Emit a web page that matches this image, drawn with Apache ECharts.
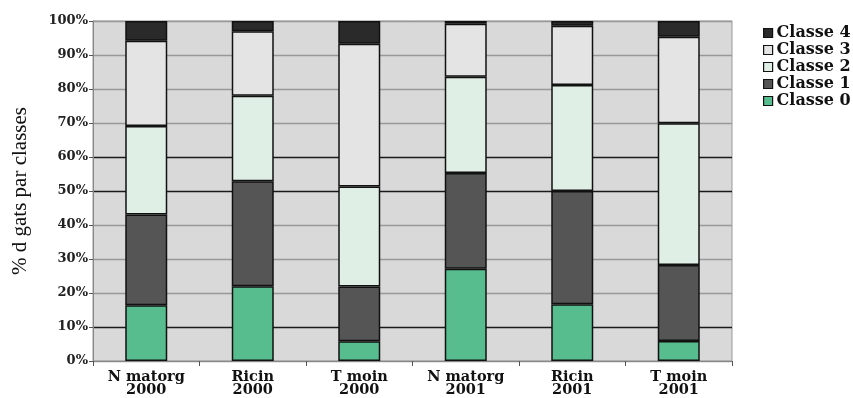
<!DOCTYPE html>
<html>
<head>
<meta charset="utf-8">
<script src="https://cdn.jsdelivr.net/npm/echarts@6/dist/echarts.min.js"></script>
<style>html,body{margin:0;padding:0;background:#fff}#c{width:853px;height:398px}</style>
</head>
<body>
<div id="c"></div>
<script>
const categories = ['N matorg\n2000', 'Ricin\n2000', 'T moin\n2000', 'N matorg\n2001', 'Ricin\n2001', 'T moin\n2001'];
const classe0 = [16.4, 22.0, 5.8, 27.1, 16.7, 5.9];
const classe1 = [26.7, 30.9, 16.1, 28.2, 33.3, 22.3];
const classe2 = [26.0, 25.1, 29.4, 28.3, 31.2, 41.7];
const classe3 = [25.1, 19.0, 42.0, 15.6, 17.4, 25.5];
const classe4 = [5.8, 3.0, 6.7, 0.8, 1.4, 4.6];
const seriesNames = ['Classe 0', 'Classe 1', 'Classe 2', 'Classe 3', 'Classe 4'];
const seriesData = [classe0, classe1, classe2, classe3, classe4];
const colors = ['#58bd8e', '#555555', '#e0efe5', '#e4e4e4', '#2a2a2a'];
const serif = 'DejaVu Serif';

const chart = echarts.init(document.getElementById('c'));
chart.setOption({
  animation: false,
  grid: { left: 93, right: 121, top: 21, bottom: 37, outerBoundsMode: 'none', containLabel: false, show: true, backgroundColor: '#d9d9d9', borderColor: '#999', borderWidth: 1 },
  legend: {
    data: seriesNames.slice().reverse(),
    orient: 'vertical',
    left: 758, top: 20,
    itemWidth: 9, itemHeight: 9, itemGap: 1,
    icon: 'rect',
    textStyle: { fontFamily: serif, fontWeight: 'bold', fontSize: 16, lineHeight: 16, color: '#111', padding: [0,0,0,-1] },
    itemStyle: { borderColor: '#111', borderWidth: 1.2 }
  },
  xAxis: {
    type: 'category',
    data: categories,
    axisLine: { lineStyle: { color: '#888', width: 1 } },
    axisTick: { show: true, length: 5, lineStyle: { color: '#555' } },
    axisLabel: { fontFamily: serif, fontWeight: 'bold', fontSize: 14.5, color: '#111', lineHeight: 13, margin: 10, interval: 0 }
  },
  yAxis: {
    type: 'value', min: 0, max: 100, interval: 10,
    name: '% d gats par classes',
    nameLocation: 'middle', nameGap: 62, nameRotate: 90,
    nameTextStyle: { fontFamily: 'Liberation Serif', fontSize: 21, color: '#111' },
    axisLine: { show: true, lineStyle: { color: '#888' } },
    axisTick: { show: true, length: 4, lineStyle: { color: '#555' } },
    axisLabel: { formatter: '{value}%', fontFamily: serif, fontWeight: 'bold', fontSize: 13, color: '#222', margin: 5 },
    splitLine: { show: true, lineStyle: { width: 1.3, color: ['#999', '#1a1a1a', '#999', '#999', '#999', '#1a1a1a', '#1a1a1a', '#999', '#999', '#999', '#999'] } }
  },
  series: seriesNames.map((n, i) => ({
    name: n, type: 'bar', stack: 'all', barWidth: 42,
    data: seriesData[i],
    itemStyle: { color: colors[i], borderColor: '#111', borderWidth: 1.5 }
  }))
});
</script>
</body>
</html>
